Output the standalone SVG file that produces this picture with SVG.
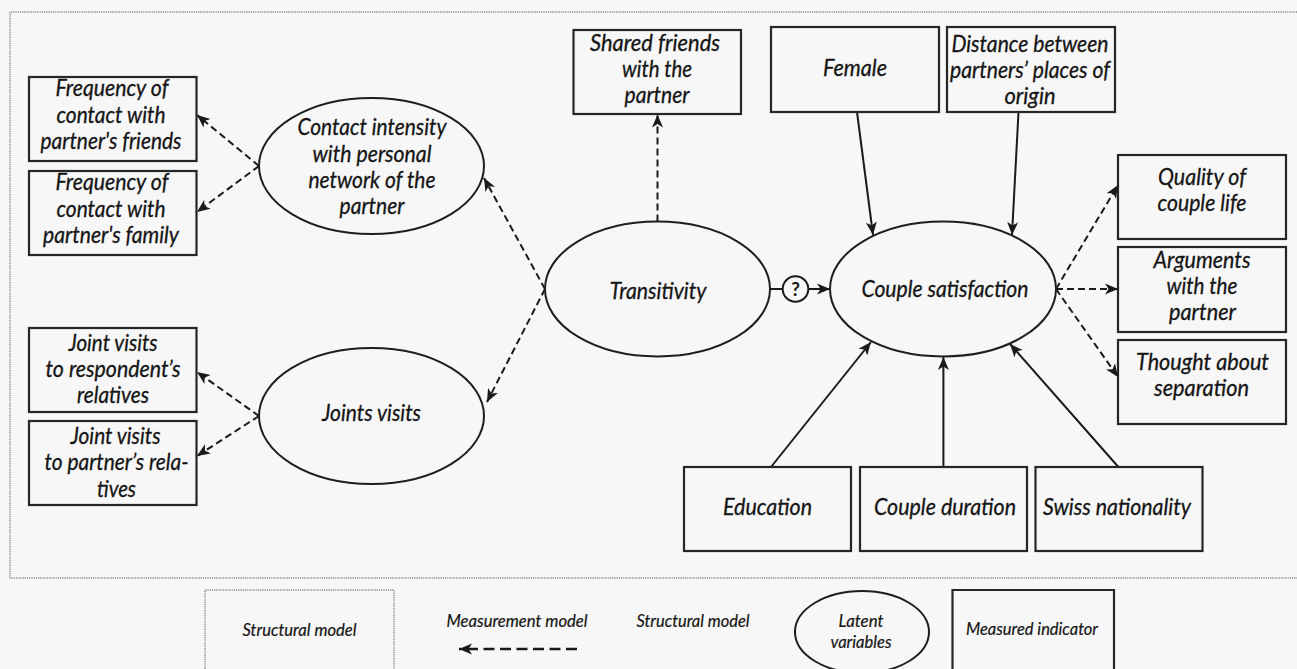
<svg xmlns="http://www.w3.org/2000/svg" width="1297" height="669" viewBox="0 0 1297 669">
<style>
  .bg{fill:#f7f7f7}
  .frame{fill:none;stroke:#8a8a8a;stroke-width:1.5;stroke-dasharray:1.2 1}
  .box{fill:none;stroke:#262626;stroke-width:2.2}
  .ell{fill:none;stroke:#1e1e1e;stroke-width:2}
  .t{font-family:Lato,"Open Sans","Liberation Sans",sans-serif;font-style:italic;font-size:23px;fill:#151515;stroke:#151515;stroke-width:0.3;text-anchor:middle}
  .lg{font-size:16.5px;stroke-width:0.2}
  .solid{fill:none;stroke:#1a1a1a;stroke-width:2}
  .dash{fill:none;stroke:#1a1a1a;stroke-width:2;stroke-dasharray:7 4}
  .ldash{fill:none;stroke:#1a1a1a;stroke-width:2.5;stroke-dasharray:11 5.5}
</style>
<defs>
  <marker id="ah" markerUnits="userSpaceOnUse" markerWidth="14" markerHeight="12" refX="13" refY="6" orient="auto" viewBox="0 0 14 12">
    <path d="M0,0.5 L13,6 L0,11.5 L3.5,6 Z" fill="#1a1a1a"/>
  </marker>
</defs>
<rect class="bg" x="0" y="0" width="1297" height="669"/>
<path class="frame" d="M1297,12 H10 V578 H1297"/>

<g id="connectors">
  <line class="dash" x1="259" y1="166" x2="197" y2="115" marker-end="url(#ah)"/>
  <line class="dash" x1="259" y1="166" x2="197" y2="212" marker-end="url(#ah)"/>
  <line class="dash" x1="545" y1="289" x2="484" y2="178" marker-end="url(#ah)"/>
  <line class="dash" x1="545" y1="289" x2="487" y2="402" marker-end="url(#ah)"/>
  <line class="dash" x1="259" y1="416" x2="197" y2="372" marker-end="url(#ah)"/>
  <line class="dash" x1="259" y1="416" x2="197" y2="456" marker-end="url(#ah)"/>
  <line class="dash" x1="657.5" y1="221.5" x2="657.5" y2="114.5" marker-end="url(#ah)"/>
  <line class="solid" x1="770" y1="289" x2="782.7" y2="289"/>
  <line class="solid" x1="808.3" y1="289" x2="830" y2="289" marker-end="url(#ah)"/>
  <line class="solid" x1="857" y1="112" x2="873" y2="235" marker-end="url(#ah)"/>
  <line class="solid" x1="1018.5" y1="112" x2="1012" y2="235" marker-end="url(#ah)"/>
  <line class="dash" x1="1056" y1="289" x2="1118" y2="185" marker-end="url(#ah)"/>
  <line class="dash" x1="1056" y1="289" x2="1118" y2="289" marker-end="url(#ah)"/>
  <line class="dash" x1="1056" y1="289" x2="1118" y2="377" marker-end="url(#ah)"/>
  <line class="solid" x1="771" y1="467" x2="871" y2="342" marker-end="url(#ah)"/>
  <line class="solid" x1="943.4" y1="467" x2="943.4" y2="357" marker-end="url(#ah)"/>
  <line class="solid" x1="1118.4" y1="467" x2="1010" y2="344" marker-end="url(#ah)"/>
</g>

<g id="q-marker">
  <circle cx="795.5" cy="289" r="12.8" fill="none" stroke="#1a1a1a" stroke-width="2"/>
  <text class="t" x="795.5" y="296" style="font-size:19px;font-style:normal;font-weight:bold;stroke-width:0">?</text>
</g>

<g id="freq-friends">
  <rect class="box" x="29" y="77" width="167.5" height="84"/>
  <text class="t" x="112" y="96" textLength="113" lengthAdjust="spacingAndGlyphs">Frequency of</text>
  <text class="t" x="111" y="123" textLength="109" lengthAdjust="spacingAndGlyphs">contact with</text>
  <text class="t" x="111" y="149" textLength="141" lengthAdjust="spacingAndGlyphs">partner's friends</text>
</g>
<g id="freq-family">
  <rect class="box" x="29" y="171" width="167.5" height="84"/>
  <text class="t" x="112" y="190" textLength="113" lengthAdjust="spacingAndGlyphs">Frequency of</text>
  <text class="t" x="111" y="217" textLength="109" lengthAdjust="spacingAndGlyphs">contact with</text>
  <text class="t" x="111" y="243" textLength="136" lengthAdjust="spacingAndGlyphs">partner's family</text>
</g>
<g id="contact-intensity">
  <ellipse class="ell" cx="371.5" cy="166" rx="112.5" ry="68"/>
  <text class="t" x="372" y="135" textLength="149" lengthAdjust="spacingAndGlyphs">Contact intensity</text>
  <text class="t" x="372" y="162" textLength="119" lengthAdjust="spacingAndGlyphs">with personal</text>
  <text class="t" x="372" y="188" textLength="127" lengthAdjust="spacingAndGlyphs">network of the</text>
  <text class="t" x="372" y="214" textLength="65" lengthAdjust="spacingAndGlyphs">partner</text>
</g>
<g id="joint-resp">
  <rect class="box" x="29" y="328" width="167.5" height="84"/>
  <text class="t" x="113" y="351" textLength="89" lengthAdjust="spacingAndGlyphs">Joint visits</text>
  <text class="t" x="113" y="377" textLength="135" lengthAdjust="spacingAndGlyphs">to respondent’s</text>
  <text class="t" x="113" y="403" textLength="72" lengthAdjust="spacingAndGlyphs">relatives</text>
</g>
<g id="joint-partner">
  <rect class="box" x="29" y="421" width="167.5" height="84"/>
  <text class="t" x="115.5" y="444" textLength="90" lengthAdjust="spacingAndGlyphs">Joint visits</text>
  <text class="t" x="116.5" y="470" textLength="144" lengthAdjust="spacingAndGlyphs">to partner’s rela-</text>
  <text class="t" x="116.5" y="496.5" textLength="39" lengthAdjust="spacingAndGlyphs">tives</text>
</g>
<g id="joints-visits">
  <ellipse class="ell" cx="371.5" cy="416" rx="112.5" ry="68"/>
  <text class="t" x="371.5" y="421" textLength="99" lengthAdjust="spacingAndGlyphs">Joints visits</text>
</g>
<g id="shared-friends">
  <rect class="box" x="573.5" y="30" width="167.5" height="84"/>
  <text class="t" x="655" y="51" textLength="130" lengthAdjust="spacingAndGlyphs">Shared friends</text>
  <text class="t" x="657" y="77" textLength="70" lengthAdjust="spacingAndGlyphs">with the</text>
  <text class="t" x="657" y="103" textLength="65" lengthAdjust="spacingAndGlyphs">partner</text>
</g>
<g id="transitivity">
  <ellipse class="ell" cx="657.5" cy="289" rx="112.5" ry="67.5"/>
  <text class="t" x="658" y="298.5" textLength="97" lengthAdjust="spacingAndGlyphs">Transitivity</text>
</g>
<g id="female">
  <rect class="box" x="771" y="27" width="168" height="85"/>
  <text class="t" x="855" y="76" textLength="64" lengthAdjust="spacingAndGlyphs">Female</text>
</g>
<g id="distance">
  <rect class="box" x="947" y="27" width="168" height="85"/>
  <text class="t" x="1030" y="51.5" textLength="157" lengthAdjust="spacingAndGlyphs">Distance between</text>
  <text class="t" x="1030" y="78" textLength="160" lengthAdjust="spacingAndGlyphs">partners’ places of</text>
  <text class="t" x="1030" y="104" textLength="51" lengthAdjust="spacingAndGlyphs">origin</text>
</g>
<g id="couple-satisfaction">
  <ellipse class="ell" cx="943" cy="289" rx="113" ry="67.5"/>
  <text class="t" x="945" y="297" textLength="167" lengthAdjust="spacingAndGlyphs">Couple satisfaction</text>
</g>
<g id="quality">
  <rect class="box" x="1118" y="155" width="168" height="84"/>
  <text class="t" x="1202" y="185" textLength="88" lengthAdjust="spacingAndGlyphs">Quality of</text>
  <text class="t" x="1202" y="211" textLength="89" lengthAdjust="spacingAndGlyphs">couple life</text>
</g>
<g id="arguments">
  <rect class="box" x="1118" y="247" width="168" height="85"/>
  <text class="t" x="1202" y="268" textLength="97" lengthAdjust="spacingAndGlyphs">Arguments</text>
  <text class="t" x="1202" y="294" textLength="71" lengthAdjust="spacingAndGlyphs">with the</text>
  <text class="t" x="1202.5" y="320" textLength="67" lengthAdjust="spacingAndGlyphs">partner</text>
</g>
<g id="thought">
  <rect class="box" x="1118" y="340" width="168" height="84"/>
  <text class="t" x="1202.5" y="370" textLength="133" lengthAdjust="spacingAndGlyphs">Thought about</text>
  <text class="t" x="1201.5" y="396" textLength="95" lengthAdjust="spacingAndGlyphs">separation</text>
</g>
<g id="education">
  <rect class="box" x="684" y="467" width="167" height="84"/>
  <text class="t" x="767.5" y="514.5" textLength="89" lengthAdjust="spacingAndGlyphs">Education</text>
</g>
<g id="couple-duration">
  <rect class="box" x="860" y="467" width="167" height="84"/>
  <text class="t" x="945" y="515" textLength="142" lengthAdjust="spacingAndGlyphs">Couple duration</text>
</g>
<g id="swiss">
  <rect class="box" x="1035.5" y="467" width="167" height="84"/>
  <text class="t" x="1117" y="515" textLength="148" lengthAdjust="spacingAndGlyphs">Swiss nationality</text>
</g>

<g id="legend">
  <path class="frame" d="M205,669 V590 H394 V669"/>
  <text class="t lg" x="299.5" y="636" textLength="114" lengthAdjust="spacingAndGlyphs">Structural model</text>
  <text class="t lg" x="517" y="626.5" textLength="141" lengthAdjust="spacingAndGlyphs">Measurement model</text>
  <line class="ldash" x1="577" y1="649" x2="459" y2="649" marker-end="url(#ah)"/>
  <text class="t lg" x="693" y="626.5" textLength="113" lengthAdjust="spacingAndGlyphs">Structural model</text>
  <ellipse class="ell" cx="862" cy="632" rx="67" ry="41"/>
  <text class="t lg" x="861" y="627" textLength="45" lengthAdjust="spacingAndGlyphs">Latent</text>
  <text class="t lg" x="861" y="647.5" textLength="61" lengthAdjust="spacingAndGlyphs">variables</text>
  <path class="box" d="M952.5,670 V590 H1114 V670"/>
  <text class="t lg" x="1032" y="635" textLength="132" lengthAdjust="spacingAndGlyphs">Measured indicator</text>
</g>
</svg>
